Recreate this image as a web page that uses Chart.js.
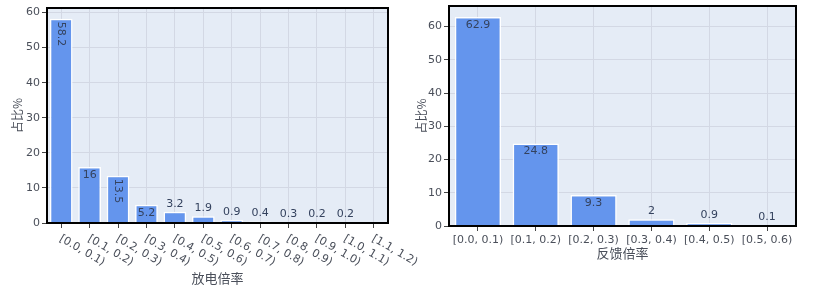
<!DOCTYPE html>
<html><head><meta charset="utf-8">
<script src="https://cdn.jsdelivr.net/npm/chart.js@4.4.1/dist/chart.umd.min.js"></script>
<style>
body{margin:0;background:#fff;width:836px;height:289px;overflow:hidden;position:relative}
#c1{position:absolute;left:0;top:0}
#c2{position:absolute;left:410px;top:0}
</style></head><body>
<canvas id="c1" width="420" height="289"></canvas>
<canvas id="c2" width="426" height="289"></canvas>
<script>
// ---- data ----
const dischargeCategories = ["[0.0, 0.1)","[0.1, 0.2)","[0.2, 0.3)","[0.3, 0.4)","[0.4, 0.5)","[0.5, 0.6)","[0.6, 0.7)","[0.7, 0.8)","[0.8, 0.9)","[0.9, 1.0)","[1.0, 1.1)","[1.1, 1.2)"];
const dischargeValues = [58.2, 16, 13.5, 5.2, 3.2, 1.9, 0.9, 0.4, 0.3, 0.2, 0.2, 0];
const feedbackCategories = ["[0.0, 0.1)","[0.1, 0.2)","[0.2, 0.3)","[0.3, 0.4)","[0.4, 0.5)","[0.5, 0.6)"];
const feedbackValues = [62.9, 24.8, 9.3, 2, 0.9, 0.1];
const yTickValues = [0, 10, 20, 30, 40, 50, 60];
const yAxisTitle = "占比%";
const dischargeAxisTitle = "放电倍率";
const feedbackAxisTitle = "反馈倍率";

const FONT = '"DejaVu Sans", "Noto Sans CJK SC", sans-serif';
const CJK = '"Noto Sans CJK SC", "DejaVu Sans", sans-serif';
const TICK_COLOR = '#4a4f5a';
const LABEL_COLOR = '#34425e';
const BAR_COLOR = '#6495ED';
const BG = '#e5ecf6';
const GRID = '#d3d8e4';

function decoPlugin(cfg) {
  return {
    id: 'deco',
    beforeDraw(chart) {
      const {ctx, chartArea: a} = chart;
      ctx.save();
      ctx.fillStyle = BG;
      ctx.fillRect(a.left, a.top, a.right - a.left, a.bottom - a.top);
      ctx.restore();
    },
    afterDraw(chart) {
      const {ctx, chartArea: a} = chart;
      const meta = chart.getDatasetMeta(0);
      const vals = chart.data.datasets[0].data;
      ctx.save();
      // bar value labels (plotly "auto" style)
      ctx.font = '11px ' + FONT;
      ctx.fillStyle = LABEL_COLOR;
      meta.data.forEach((el, i) => {
        const v = vals[i];
        if (!v) return;
        const txt = String(v);
        const tw = ctx.measureText(txt).width;
        const top = Math.min(el.y, el.base);
        const h = Math.abs(el.base - el.y);
        const w = el.width;
        if (tw <= w - 4 && h >= 15) {
          ctx.textAlign = 'center'; ctx.textBaseline = 'middle';
          ctx.fillText(txt, el.x, top + 8);
        } else if (tw > w - 4 && h >= tw + 6) {
          ctx.save();
          ctx.translate(el.x, top + 3);
          ctx.rotate(Math.PI / 2);
          ctx.textAlign = 'left'; ctx.textBaseline = 'middle';
          ctx.fillText(txt, 0, 0);
          ctx.restore();
        } else {
          ctx.textAlign = 'center'; ctx.textBaseline = 'middle';
          ctx.fillText(txt, el.x, top - 8);
        }
      });
      // frame
      ctx.strokeStyle = '#000';
      ctx.lineWidth = 2;
      ctx.strokeRect(a.left, a.top, a.right - a.left, a.bottom - a.top);
      // rotated x tick labels
      const xs = chart.scales.x;
      ctx.fillStyle = TICK_COLOR;
      if (cfg.rotate) {
        ctx.font = '11px ' + FONT;
        chart.data.labels.forEach((lab, i) => {
          const x = xs.getPixelForTick(i);
          ctx.save();
          ctx.translate(x - 1, a.bottom + 15);
          ctx.rotate(Math.PI / 6);
          ctx.textAlign = 'left'; ctx.textBaseline = 'middle';
          ctx.fillText(lab, 0, 0);
          ctx.restore();
        });
      }
      // axis titles
      ctx.font = '13px ' + CJK;
      ctx.textAlign = 'center'; ctx.textBaseline = 'middle';
      ctx.fillText(cfg.xTitle, (a.left + a.right) / 2, cfg.xTitleY);
      ctx.save();
      ctx.font = '12px ' + CJK;
      ctx.translate(cfg.yTitleX, (a.top + a.bottom) / 2);
      ctx.rotate(-Math.PI / 2);
      ctx.fillText(yAxisTitle, 0, 0);
      ctx.restore();
      ctx.restore();
    }
  };
}

function makeChart(id, labels, values, o) {
  return new Chart(document.getElementById(id), {
    type: 'bar',
    data: {
      labels: labels,
      datasets: [{
        data: values,
        backgroundColor: BAR_COLOR,
        borderColor: '#ffffff',
        borderWidth: 1.5,
        barPercentage: 0.8,
        categoryPercentage: 1.0
      }]
    },
    options: {
      responsive: false,
      animation: false,
      devicePixelRatio: 1,
      layout: { padding: o.padding },
      plugins: { legend: { display: false }, tooltip: { enabled: false } },
      scales: {
        x: {
          grid: { offset: false, color: GRID, lineWidth: 1, drawTicks: true, tickLength: 5, tickColor: '#444' },
          border: { display: true, color: '#000', width: 2 },
          ticks: {
            display: !o.rotate, autoSkip: false, maxRotation: 0, minRotation: 0,
            padding: 3, color: TICK_COLOR, font: { family: FONT, size: 11 }
          },
          afterFit(s) { s.height = o.xHeight; s.paddingLeft = 0; s.paddingRight = 0; }
        },
        y: {
          min: 0, max: o.yMax,
          grid: { color: GRID, lineWidth: 1, drawTicks: true, tickLength: 5, tickColor: '#444' },
          border: { display: true, color: '#000', width: 2 },
          ticks: { stepSize: 10, padding: 2, color: TICK_COLOR, font: { family: FONT, size: 11 } },
          afterBuildTicks(s) { s.ticks = yTickValues.map(v => ({ value: v })); },
          afterFit(s) { s.width = o.yWidth; s.paddingTop = 0; s.paddingBottom = 0; }
        }
      }
    },
    plugins: [decoPlugin(o)]
  });
}

makeChart('c1', dischargeCategories, dischargeValues, {
  padding: { left: 0, top: 8, right: 32, bottom: 0 },
  xHeight: 66, yWidth: 47, yMax: 61.3, rotate: true,
  xTitle: dischargeAxisTitle, xTitleY: 278, yTitleX: 17
});
makeChart('c2', feedbackCategories, feedbackValues, {
  padding: { left: 0, top: 6, right: 40, bottom: 0 },
  xHeight: 63, yWidth: 39, yMax: 66.2, rotate: false,
  xTitle: feedbackAxisTitle, xTitleY: 253, yTitleX: 11
});
</script>
</body></html>
